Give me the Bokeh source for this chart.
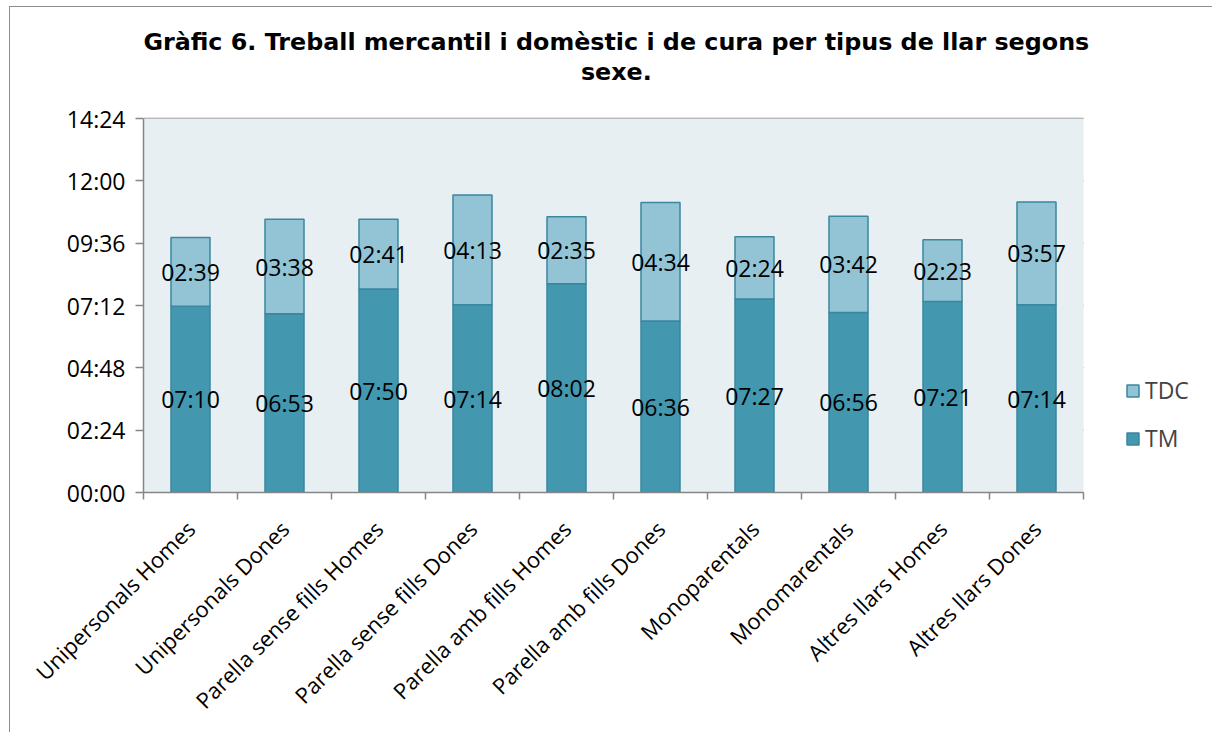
import math
from bokeh.plotting import figure
from bokeh.models import (ColumnDataSource, Range1d, FixedTicker, Label, Legend, LegendItem,
                          BoxAnnotation)
from bokeh.core.properties import value
from bokeh.embed import file_html
from bokeh.resources import INLINE

categories = ["Unipersonals Homes", "Unipersonals Dones", "Parella sense fills Homes",
              "Parella sense fills Dones", "Parella amb fills Homes", "Parella amb fills Dones",
              "Monoparentals", "Monomarentals", "Altres llars Homes", "Altres llars Dones"]
tm_labels = ["07:10", "06:53", "07:50", "07:14", "08:02", "06:36", "07:27", "06:56", "07:21", "07:14"]
tdc_labels = ["02:39", "03:38", "02:41", "04:13", "02:35", "04:34", "02:24", "03:42", "02:23", "03:57"]
y_ticks = [0, 144, 288, 432, 576, 720, 864]
title_lines = ["Gràfic 6. Treball mercantil i domèstic i de cura per tipus de llar segons", "sexe."]


def to_min(s):
    h, m = s.split(":")
    return int(h) * 60 + int(m)


def fmt(v):
    return "%02d:%02d" % (v // 60, v % 60)


n = len(categories)
y_max = y_ticks[-1]
tm = [to_min(s) for s in tm_labels]
tdc = [to_min(s) for s in tdc_labels]
xs = [i + 0.5 for i in range(n)]

src = ColumnDataSource(dict(
    x=xs, tm=tm, top=[a + b for a, b in zip(tm, tdc)],
    tm_mid=[a / 2 for a in tm], tdc_mid=[a + b / 2 for a, b in zip(tm, tdc)],
    tm_lab=tm_labels, tdc_lab=tdc_labels,
))

TM_COL = "#4397AE"
TDC_COL = "#93C4D5"
OUT_COL = "#3A879E"
GRID = "#868686"
BG = "#E8EFF3"
FONT = "Open Sans"

# frame extends beyond the plotting area so that title and legend are not clipped
p = figure(width=1203, height=726, output_backend="svg", toolbar_location=None,
           x_range=Range1d(0, n * 1070 / 940), y_range=Range1d(0, y_max * 485 / 374),
           min_border_left=133, min_border_right=0, min_border_top=0, min_border_bottom=241)
p.background_fill_color = "white"
p.border_fill_color = "white"
p.outline_line_color = None
p.title.visible = False
p.styles = {"margin-left": "9px", "margin-top": "6px",
            "border-left": "1px solid #8c8c8c", "border-top": "1px solid #8c8c8c"}

p.xgrid.visible = False
p.ygrid.visible = False

p.add_layout(BoxAnnotation(left=0, right=n, bottom=0, top=y_max, fill_color=BG, fill_alpha=1,
                           line_color=None, level="underlay"))
p.segment(x0=[0] * len(y_ticks), x1=[n] * len(y_ticks), y0=y_ticks, y1=y_ticks,
          line_color=GRID, line_width=1.5, level="underlay")

p.yaxis.bounds = (0, y_max)
p.yaxis.ticker = FixedTicker(ticks=y_ticks)
p.yaxis.major_label_overrides = {t: fmt(t) for t in y_ticks}
p.yaxis.axis_line_color = GRID
p.yaxis.axis_line_width = 1.5
p.yaxis.major_tick_line_color = GRID
p.yaxis.major_tick_line_width = 1.5
p.yaxis.major_tick_out = 8
p.yaxis.major_tick_in = 0
p.yaxis.minor_tick_line_color = None
p.yaxis.major_label_text_font = FONT
p.yaxis.major_label_text_font_size = "23px"
p.yaxis.major_label_text_color = "black"
p.yaxis.major_label_standoff = 10

p.xaxis.bounds = (0, n)
p.xaxis.ticker = FixedTicker(ticks=xs, minor_ticks=list(range(n + 1)))
p.xaxis.major_label_overrides = {x: c for x, c in zip(xs, categories)}
p.xaxis.major_label_orientation = math.pi / 4
p.xaxis.axis_line_color = GRID
p.xaxis.axis_line_width = 1.5
p.xaxis.major_tick_line_color = None
p.xaxis.minor_tick_line_color = GRID
p.xaxis.minor_tick_line_width = 1.5
p.xaxis.minor_tick_out = 7
p.xaxis.minor_tick_in = 0
p.xaxis.major_label_text_font = FONT
p.xaxis.major_label_text_font_size = "22px"
p.xaxis.major_label_text_color = "black"
p.xaxis.major_label_standoff = 25

r_tm = p.vbar(x="x", width=0.415, bottom=0, top="tm", source=src,
              fill_color=TM_COL, line_color=OUT_COL, line_width=1.5)
r_tdc = p.vbar(x="x", width=0.415, bottom="tm", top="top", source=src,
               fill_color=TDC_COL, line_color=OUT_COL, line_width=1.5)

p.text(x="x", y="tm_mid", text="tm_lab", source=src, text_align="center",
       text_baseline="middle", text_font=value(FONT), text_font_size="23px", text_color="black")
p.text(x="x", y="tdc_mid", text="tdc_lab", source=src, text_align="center",
       text_baseline="middle", text_font=value(FONT), text_font_size="23px", text_color="black")

for txt, yv in zip(title_lines, [1040, 972]):
    p.add_layout(Label(x=n / 2 + 0.03, y=yv, text=txt, text_align="center",
                       text_baseline="alphabetic", text_font="DejaVu Sans",
                       text_font_style="bold", text_font_size="23.8px", text_color="black"))

legend = Legend(items=[LegendItem(label="TDC", renderers=[r_tdc]),
                       LegendItem(label="TM", renderers=[r_tm])],
                location=(982, 38), border_line_color=None, background_fill_alpha=0,
                glyph_width=15, glyph_height=15, label_standoff=5, spacing=16,
                padding=0, margin=0, label_text_font=FONT, label_text_font_size="23px")
p.add_layout(legend)

open("out.html", "w").write(file_html(p, INLINE))
